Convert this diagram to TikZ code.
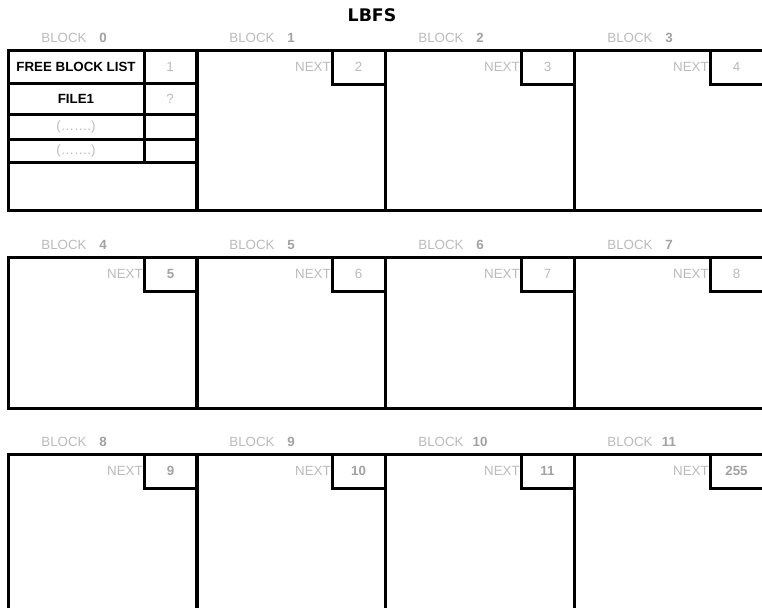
\documentclass[tikz,border=0pt]{standalone}
\usepackage{fontspec}
\setmainfont{Liberation Sans}
\newfontfamily\titlefont{DejaVu Sans}
\definecolor{lt}{HTML}{BBBBBB}
\definecolor{md}{HTML}{A2A2A2}
\begin{document}
\begin{tikzpicture}[x=0.75pt,y=-0.75pt,
  frame/.style={draw=black,line width=2.25pt},
  lbl/.style={text=lt,font=\fontsize{10}{12}\selectfont,inner sep=0pt},
  numb/.style={text=md,font=\fontsize{10}{12}\selectfont\bfseries,inner sep=0pt},
  numr/.style={text=lt,font=\fontsize{10}{12}\selectfont,inner sep=0pt},
  dark/.style={text=black,font=\fontsize{10}{12}\selectfont\bfseries,inner sep=0pt},
  ttl/.style={text=black,font=\titlefont\bfseries\fontsize{13}{15}\selectfont,inner sep=0pt}
]
\useasboundingbox (0,0) rectangle (762,607);
\clip (0,0) rectangle (762,607);
\fill[white] (0,0) rectangle (762,607);

\node[ttl] (title) at (372,15) {LBFS};

% block labels
\foreach \n/\L/\T in {0/8/50,1/196/50,2/385/50,3/574/50,
                      4/8/257,5/196/257,6/385/257,7/574/257,
                      8/8/454,9/196/454,10/385/454,11/574/454}{
  \node[lbl] (bl\n) at (\L+56,\T-12) {BLOCK};
  \node[numb] (bn\n) at (\L+95,\T-12) {\n};
}

% block frames
\foreach \L/\T/\B in {8/50/210,196/50/210,385/50/210,574/50/210,
                      8/257/408,196/257/408,385/257/408,574/257/408,
                      8/454/640,196/454/640,385/454/640,574/454/640}{
  \draw[frame] (\L,\T) rectangle (\L+189,\B);
}

% NEXT boxes
\foreach \n/\L/\T/\v/\s in {1/196/50/2/numr,2/385/50/3/numr,3/574/50/4/numr,
                      4/8/257/5/numb,5/196/257/6/numr,6/385/257/7/numr,7/574/257/8/numr,
                      8/8/454/9/numb,9/196/454/10/numb,10/385/454/11/numb,11/574/454/255/numb}{
  \draw[frame] (\L+136,\T) rectangle (\L+189,\T+34);
  \node[lbl,anchor=east] (nx\n) at (\L+135,\T+17) {NEXT};
  \node[\s] (nv\n) at (\L+162.5,\T+17) {\v};
}

% block 0 table
\draw[frame] (8,83) -- (196,83);
\draw[frame] (8,114) -- (196,114);
\draw[frame] (8,139) -- (196,139);
\draw[frame] (8,162) -- (196,162);
\draw[frame] (144,50) -- (144,162);
\node[dark] (fbl) at (76,67) {FREE BLOCK LIST};
\node[numr] (fbv) at (170,67) {1};
\node[dark] (f1) at (76,99) {FILE1};
\node[numr] (f1v) at (170,99) {?};
\node[numr] (e1) at (76,127) {(…….)};
\node[numr] (e2) at (76,151) {(…….)};
\end{tikzpicture}
\end{document}
